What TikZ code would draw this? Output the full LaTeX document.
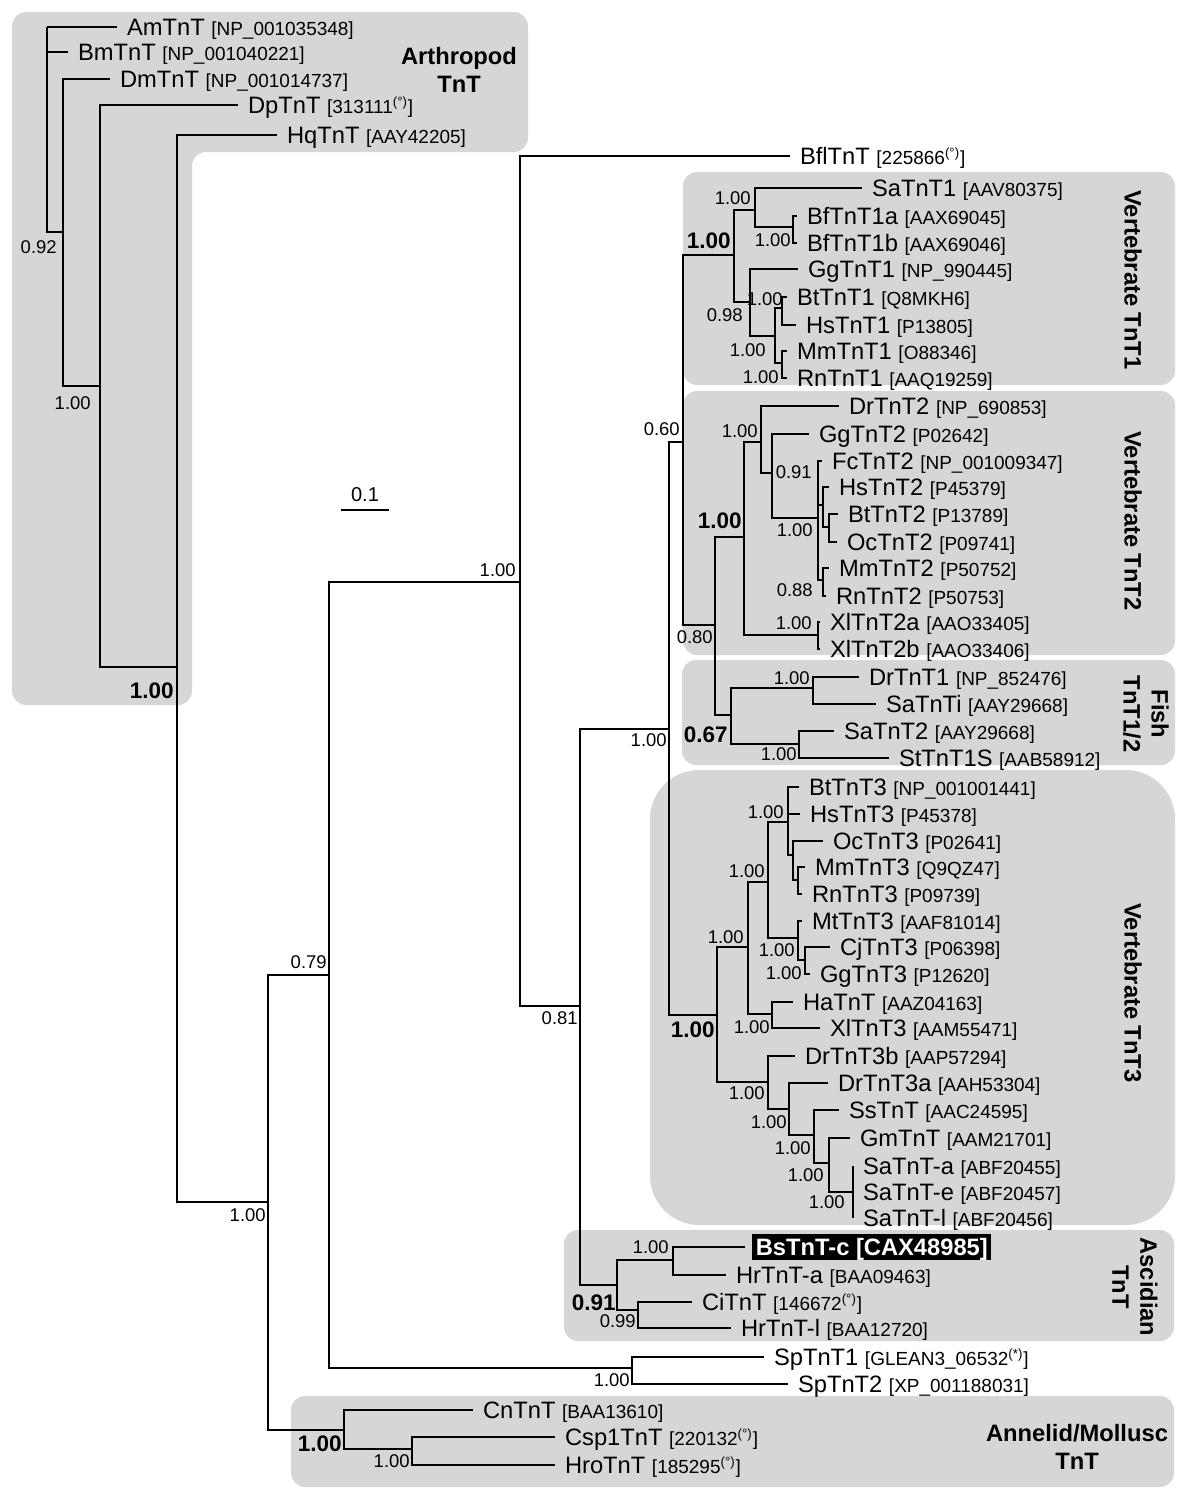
\documentclass[tikz,border=0pt]{standalone}
\usepackage{fontspec}
\setmainfont{Liberation Sans}
\definecolor{cladegray}{RGB}{214,214,214}
\newcommand{\acc}[1]{{\fontsize{10.8}{12}\selectfont[#1]}}
\newcommand{\seqdb}{\textsuperscript{(°)}}
\tikzset{
  leaf/.style={anchor=west, inner xsep=5.5pt, inner ysep=1pt, text height=9.7pt, text depth=0pt,
    font=\fontsize{13.5}{16}\selectfont},
  supp/.style={anchor=east, inner sep=0pt, font=\fontsize{10.5}{12}\selectfont},
  bsupp/.style={anchor=east, inner sep=0pt, font=\bfseries\fontsize{12.8}{14}\selectfont},
  grp/.style={align=center, inner sep=0pt, font=\bfseries\fontsize{13.5}{16}\selectfont},
  branch/.style={line width=1pt},
  clade/.style={fill=cladegray, rounded corners=8pt}
}
\begin{document}
\begin{tikzpicture}[x=0.02cm, y=-0.02cm]
  \useasboundingbox (0,0) rectangle (1200,1508);

  % clade boxes
  \fill[clade] (12,12) -- (528,12) -- (528,152) -- (192,152) -- (192,705) -- (12,705) -- cycle;
  \fill[clade] (683,172) rectangle (1175,385);
  \fill[clade] (683,391) rectangle (1175,655);
  \fill[clade] (682,660) rectangle (1175,765);
  \fill[clade, rounded corners=28pt] (650,770) rectangle (1175,1225);
  \fill[clade] (564,1230) rectangle (1174,1341);
  \fill[clade] (291,1396) rectangle (1174,1487);

  \node[grp] (arthro) at (459,70) {Arthropod\\TnT};
  \node[grp, rotate=-90] (vtone) at (1133,280) {Vertebrate TnT1};
  \node[grp, rotate=-90] (vttwo) at (1133,521) {Vertebrate TnT2};
  \node[grp, rotate=-90] (fish) at (1146,714) {Fish\\TnT1/2};
  \node[grp, rotate=-90] (vtthree) at (1133,993) {Vertebrate TnT3};
  \node[grp, rotate=-90] (ascid) at (1135,1287) {Ascidian\\TnT};
  \node[grp] (annel) at (1077,1447) {Annelid/Mollusc\\TnT};

  % scale bar
  \coordinate (sba) at (341,510);
  \coordinate (sbb) at (389,510);
  \draw[branch] (sba) -- node[above=1pt, font=\fontsize{11.4}{13}\selectfont] (sblabel) {0.1} (sbb);

  % leaves
  \node[leaf] (AmTnT) at (117,27) {AmTnT \acc{NP\_001035348}};
  \node[leaf] (BmTnT) at (68,52) {BmTnT \acc{NP\_001040221}};
  \node[leaf] (DmTnT) at (110,79) {DmTnT \acc{NP\_001014737}};
  \node[leaf] (DpTnT) at (238,105) {DpTnT \acc{313111\seqdb}};
  \node[leaf] (HqTnT) at (277,135) {HqTnT \acc{AAY42205}};
  \node[leaf] (BflTnT) at (790,156) {BflTnT \acc{225866\seqdb}};
  \node[leaf] (SaTnT1) at (862,188) {SaTnT1 \acc{AAV80375}};
  \node[leaf] (BfTnT1a) at (797,216) {BfTnT1a \acc{AAX69045}};
  \node[leaf] (BfTnT1b) at (797,243) {BfTnT1b \acc{AAX69046}};
  \node[leaf] (GgTnT1) at (798,269) {GgTnT1 \acc{NP\_990445}};
  \node[leaf] (BtTnT1) at (787,297) {BtTnT1 \acc{Q8MKH6}};
  \node[leaf] (HsTnT1) at (796,325) {HsTnT1 \acc{P13805}};
  \node[leaf] (MmTnT1) at (787,351) {MmTnT1 \acc{O88346}};
  \node[leaf] (RnTnT1) at (787,378) {RnTnT1 \acc{AAQ19259}};
  \node[leaf] (DrTnT2) at (839,406) {DrTnT2 \acc{NP\_690853}};
  \node[leaf] (GgTnT2) at (809,434) {GgTnT2 \acc{P02642}};
  \node[leaf] (FcTnT2) at (822,461) {FcTnT2 \acc{NP\_001009347}};
  \node[leaf] (HsTnT2) at (829,487) {HsTnT2 \acc{P45379}};
  \node[leaf] (BtTnT2) at (838,514) {BtTnT2 \acc{P13789}};
  \node[leaf] (OcTnT2) at (837,542) {OcTnT2 \acc{P09741}};
  \node[leaf] (MmTnT2) at (829,568) {MmTnT2 \acc{P50752}};
  \node[leaf] (RnTnT2) at (826,596) {RnTnT2 \acc{P50753}};
  \node[leaf] (XlTnT2a) at (820,622) {XlTnT2a \acc{AAO33405}};
  \node[leaf] (XlTnT2b) at (820,649) {XlTnT2b \acc{AAO33406}};
  \node[leaf] (DrTnT1) at (859,677) {DrTnT1 \acc{NP\_852476}};
  \node[leaf] (SaTnTi) at (876,704) {SaTnTi \acc{AAY29668}};
  \node[leaf] (SaTnT2) at (834,731) {SaTnT2 \acc{AAY29668}};
  \node[leaf] (StTnT1S) at (889,758) {StTnT1S \acc{AAB58912}};
  \node[leaf] (BtTnT3) at (799,787) {BtTnT3 \acc{NP\_001001441}};
  \node[leaf] (HsTnT3) at (800,814) {HsTnT3 \acc{P45378}};
  \node[leaf] (OcTnT3) at (823,841) {OcTnT3 \acc{P02641}};
  \node[leaf] (MmTnT3) at (805,867) {MmTnT3 \acc{Q9QZ47}};
  \node[leaf] (RnTnT3) at (802,894) {RnTnT3 \acc{P09739}};
  \node[leaf] (MtTnT3) at (802,921) {MtTnT3 \acc{AAF81014}};
  \node[leaf] (CjTnT3) at (830,947) {CjTnT3 \acc{P06398}};
  \node[leaf] (GgTnT3) at (810,974) {GgTnT3 \acc{P12620}};
  \node[leaf] (HaTnT) at (793,1002) {HaTnT \acc{AAZ04163}};
  \node[leaf] (XlTnT3) at (820,1028) {XlTnT3 \acc{AAM55471}};
  \node[leaf] (DrTnT3b) at (795,1056) {DrTnT3b \acc{AAP57294}};
  \node[leaf] (DrTnT3a) at (828,1083) {DrTnT3a \acc{AAH53304}};
  \node[leaf] (SsTnT) at (839,1110) {SsTnT \acc{AAC24595}};
  \node[leaf] (GmTnT) at (850,1138) {GmTnT \acc{AAM21701}};
  \node[leaf] (SaTnTa) at (853,1166) {SaTnT-a \acc{ABF20455}};
  \node[leaf] (SaTnTe) at (853,1192) {SaTnT-e \acc{ABF20457}};
  \node[leaf] (SaTnTl) at (853,1218) {SaTnT-l \acc{ABF20456}};
  \node[leaf, fill=black, text=white, inner xsep=2pt, inner ysep=2.3pt,
    font=\bfseries\fontsize{13.5}{15}\selectfont] (BsTnTc) at (752,1247) {BsTnT-c [CAX48985]};
  \node[leaf] (HrTnTa) at (726,1275) {HrTnT-a \acc{BAA09463}};
  \node[leaf] (CiTnT) at (692,1302) {CiTnT \acc{146672\seqdb}};
  \node[leaf] (HrTnTl) at (731,1328) {HrTnT-l \acc{BAA12720}};
  \node[leaf] (SpTnT1) at (764,1357) {SpTnT1 \acc{GLEAN3\_06532\textsuperscript{(*)}}};
  \node[leaf] (SpTnT2) at (788,1384) {SpTnT2 \acc{XP\_001188031}};
  \node[leaf] (CnTnT) at (473,1410) {CnTnT \acc{BAA13610}};
  \node[leaf] (Csp1TnT) at (555,1437) {Csp1TnT \acc{220132\seqdb}};
  \node[leaf] (HroTnT) at (555,1465) {HroTnT \acc{185295\seqdb}};

  % internal nodes
  \coordinate (r) at (47,27);
  \coordinate (n63) at (63,232);
  \coordinate (n100) at (100,386);
  \coordinate (n177) at (177,667);
  \coordinate (n268) at (268,1202);
  \coordinate (n329) at (329,975);
  \coordinate (n520) at (520,582);
  \coordinate (n580) at (580,1006);
  \coordinate (n669) at (669,729);
  \coordinate (n683) at (683,442);
  \coordinate (n734) at (734,255);
  \coordinate (n755) at (755,210);
  \coordinate (n793) at (793,227);
  \coordinate (n750) at (750,302);
  \coordinate (n775) at (775,336);
  \coordinate (n782a) at (782,308);
  \coordinate (n782b) at (782,363);
  \coordinate (n715) at (715,625);
  \coordinate (n744) at (744,537);
  \coordinate (n761) at (761,442);
  \coordinate (n772) at (772,473);
  \coordinate (n818) at (818,518);
  \coordinate (n823a) at (823,505);
  \coordinate (n829b) at (829,527);
  \coordinate (n823b) at (823,580);
  \coordinate (n818x) at (818,635);
  \coordinate (n731) at (731,715);
  \coordinate (n813) at (813,688);
  \coordinate (n799) at (799,744);
  \coordinate (n717) at (717,1015);
  \coordinate (n748) at (748,947);
  \coordinate (n768) at (768,882);
  \coordinate (n788) at (788,822);
  \coordinate (n793c) at (793,855);
  \coordinate (n798c) at (798,880);
  \coordinate (n798) at (798,938);
  \coordinate (n805) at (805,960);
  \coordinate (n772c) at (772,1014);
  \coordinate (n768b) at (768,1082);
  \coordinate (n789) at (789,1109);
  \coordinate (n814) at (814,1135);
  \coordinate (n829) at (829,1163);
  \coordinate (n853) at (853,1192);
  \coordinate (n617) at (617,1285);
  \coordinate (n673) at (673,1260);
  \coordinate (n638) at (638,1310);
  \coordinate (n632) at (632,1368);
  \coordinate (n344) at (344,1430);
  \coordinate (n412) at (412,1449);

  % branches
  \draw[branch] (r) |- (AmTnT) (r) |- (BmTnT) (r) |- (n63)
    (n63) |- (DmTnT) (n63) |- (n100)
    (n100) |- (DpTnT) (n100) |- (n177)
    (n177) |- (HqTnT) (n177) |- (n268)
    (n268) |- (n329) (n268) |- (n344)
    (n329) |- (n520) (n329) |- (n632)
    (n520) |- (BflTnT) (n520) |- (n580)
    (n580) |- (n669) (n580) |- (n617)
    (n669) |- (n683) (n669) |- (n717)
    (n683) |- (n734) (n683) |- (n715);
  % vertebrate TnT1
  \draw[branch] (n734) |- (n755) (n734) |- (n750)
    (n755) |- (SaTnT1) (n755) |- (n793)
    (n793) |- (BfTnT1a) (n793) |- (BfTnT1b)
    (n750) |- (GgTnT1) (n750) |- (n775)
    (n775) |- (n782a) (n775) |- (n782b)
    (n782a) |- (BtTnT1) (n782a) |- (HsTnT1)
    (n782b) |- (MmTnT1) (n782b) |- (RnTnT1);
  % vertebrate TnT2 and fish
  \draw[branch] (n715) |- (n744) (n715) |- (n731)
    (n744) |- (n761) (n744) |- (n818x)
    (n761) |- (DrTnT2) (n761) |- (n772)
    (n772) |- (GgTnT2) (n772) |- (n818)
    (n818) |- (FcTnT2) (n818) |- (n823a) (n818) |- (n823b)
    (n823a) |- (HsTnT2) (n823a) |- (n829b)
    (n829b) |- (BtTnT2) (n829b) |- (OcTnT2)
    (n823b) |- (MmTnT2) (n823b) |- (RnTnT2)
    (n818x) |- (XlTnT2a) (n818x) |- (XlTnT2b)
    (n731) |- (n813) (n731) |- (n799)
    (n813) |- (DrTnT1) (n813) |- (SaTnTi)
    (n799) |- (SaTnT2) (n799) |- (StTnT1S);
  % vertebrate TnT3
  \draw[branch] (n717) |- (n748) (n717) |- (n768b)
    (n748) |- (n768) (n748) |- (n772c)
    (n768) |- (n788) (n768) |- (n798)
    (n788) |- (BtTnT3) (n788) |- (HsTnT3) (n788) |- (n793c)
    (n793c) |- (OcTnT3) (n793c) |- (n798c)
    (n798c) |- (MmTnT3) (n798c) |- (RnTnT3)
    (n798) |- (MtTnT3) (n798) |- (n805)
    (n805) |- (CjTnT3) (n805) |- (GgTnT3)
    (n772c) |- (HaTnT) (n772c) |- (XlTnT3)
    (n768b) |- (DrTnT3b) (n768b) |- (n789)
    (n789) |- (DrTnT3a) (n789) |- (n814)
    (n814) |- (SsTnT) (n814) |- (n829)
    (n829) |- (GmTnT) (n829) |- (n853)
    (n853) |- (SaTnTa) (n853) |- (SaTnTe) (n853) |- (SaTnTl);
  % ascidian, sea urchin, annelid/mollusc
  \draw[branch] (n617) |- (n673) (n617) |- (n638)
    (n673) |- (HrTnTa)
    (n638) |- (CiTnT) (n638) |- (HrTnTl)
    (n632) |- (SpTnT1) (n632) |- (SpTnT2)
    (n344) |- (CnTnT) (n344) |- (n412)
    (n412) |- (Csp1TnT) (n412) |- (HroTnT);
  \draw[branch, shorten >=4pt] (n673) |- (BsTnTc);

  % support values
  \node[supp] (s63) at (57,247) {0.92};
  \node[supp] (s100) at (91,403) {1.00};
  \node[bsupp] (s177) at (174,691) {1.00};
  \node[supp] (s268) at (266,1215) {1.00};
  \node[supp] (s329) at (327,962) {0.79};
  \node[supp] (s520) at (516,570) {1.00};
  \node[supp] (s580) at (578,1018) {0.81};
  \node[supp] (s669) at (667,740) {1.00};
  \node[supp] (s683) at (680,429) {0.60};
  \node[bsupp] (s734) at (731,241) {1.00};
  \node[supp] (s755) at (751,198) {1.00};
  \node[supp] (s793) at (791,240) {1.00};
  \node[supp] (s750) at (743,315) {0.98};
  \node[supp] (s782a) at (783,299) {1.00};
  \node[supp] (s775) at (766,350) {1.00};
  \node[supp] (s782b) at (779,377) {1.00};
  \node[supp] (s761) at (758,431) {1.00};
  \node[supp] (s772) at (812,472) {0.91};
  \node[supp] (s818) at (813,530) {1.00};
  \node[supp] (s823b) at (813,590) {0.88};
  \node[bsupp] (s744) at (742,521) {1.00};
  \node[supp] (s818x) at (812,623) {1.00};
  \node[supp] (s715) at (713,637) {0.80};
  \node[supp] (s813) at (810,678) {1.00};
  \node[bsupp] (s731) at (728,735) {0.67};
  \node[supp] (s799) at (797,754) {1.00};
  \node[bsupp] (s717) at (715,1030) {1.00};
  \node[supp] (s748) at (744,937) {1.00};
  \node[supp] (s768) at (765,871) {1.00};
  \node[supp] (s788) at (784,812) {1.00};
  \node[supp] (s798) at (795,950) {1.00};
  \node[supp] (s805) at (802,973) {1.00};
  \node[supp] (s772c) at (770,1027) {1.00};
  \node[supp] (s768b) at (765,1093) {1.00};
  \node[supp] (s789) at (787,1122) {1.00};
  \node[supp] (s814) at (811,1148) {1.00};
  \node[supp] (s829) at (824,1175) {1.00};
  \node[supp] (s853) at (845,1202) {1.00};
  \node[supp] (s673) at (669,1247) {1.00};
  \node[bsupp] (s617) at (616,1303) {0.91};
  \node[supp] (s638) at (636,1321) {0.99};
  \node[supp] (s632) at (630,1380) {1.00};
  \node[bsupp] (s344) at (342,1444) {1.00};
  \node[supp] (s412) at (410,1461) {1.00};
\end{tikzpicture}
\end{document}
